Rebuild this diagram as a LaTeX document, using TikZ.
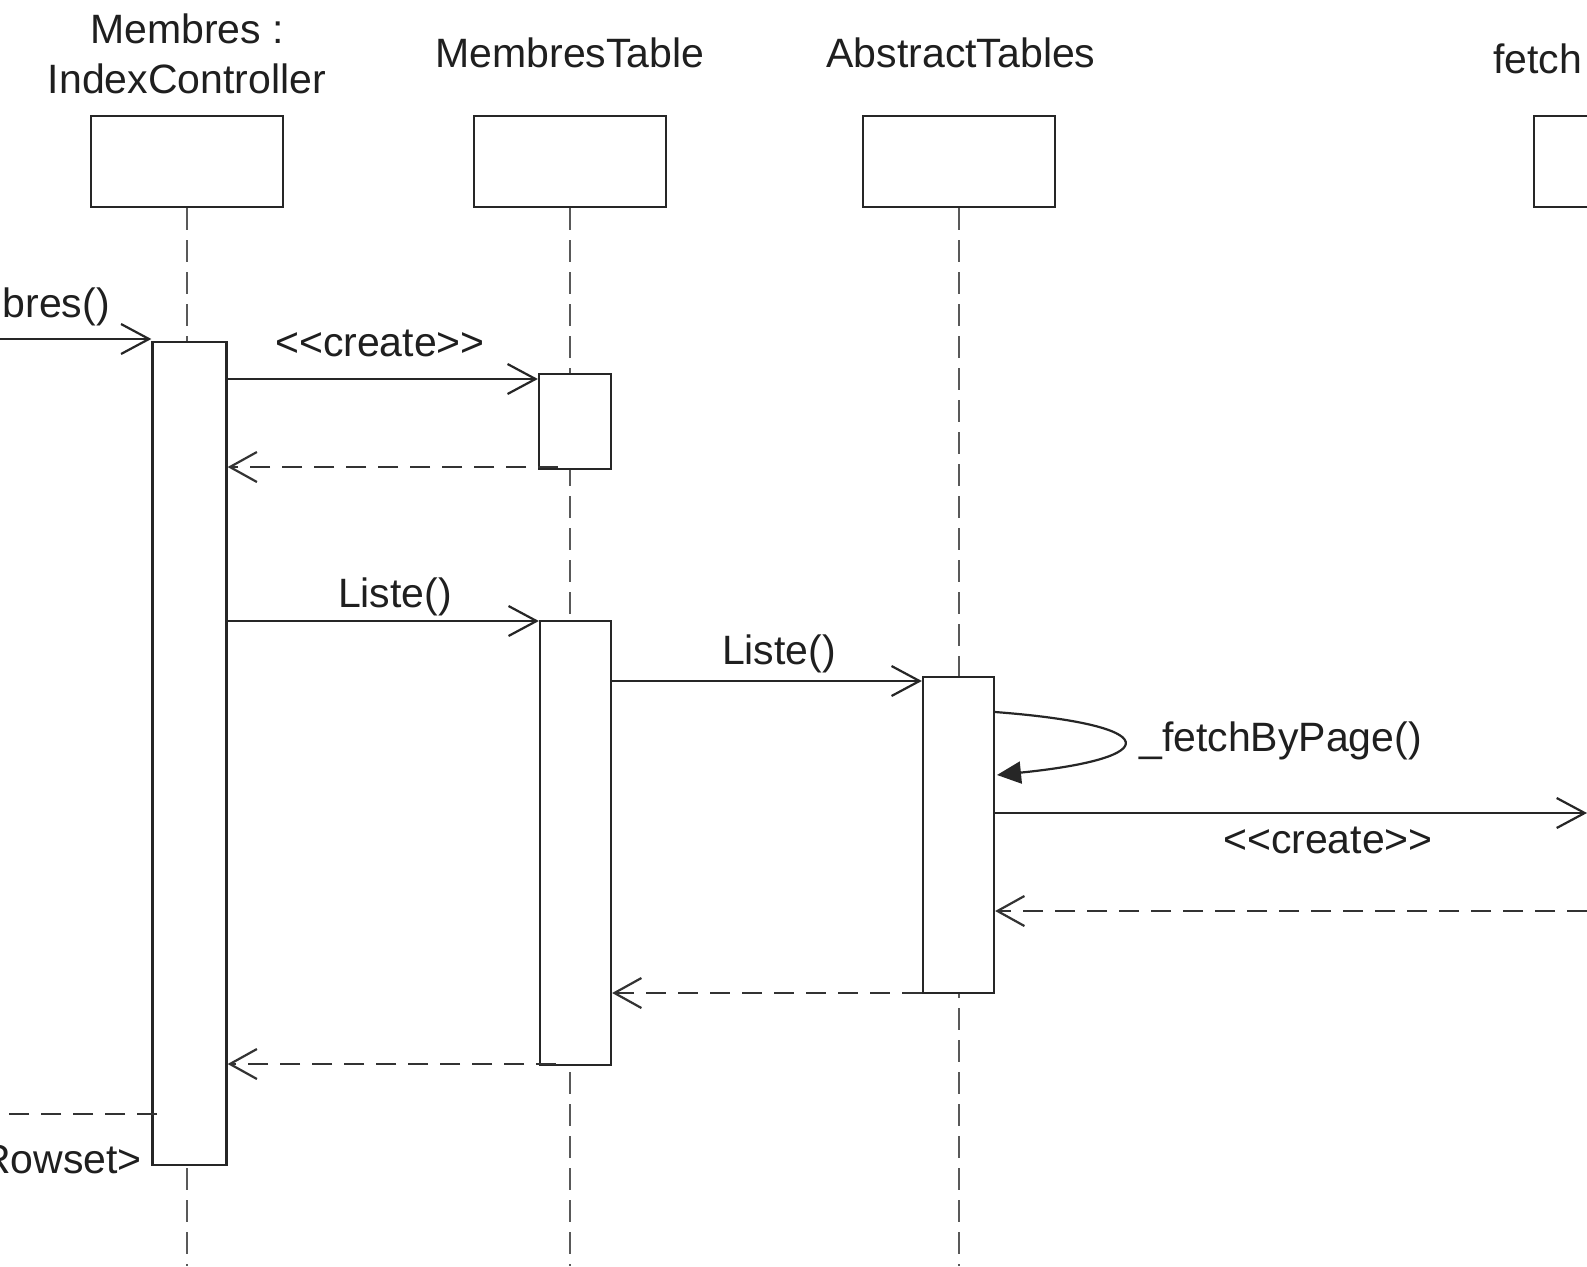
\documentclass[tikz,border=0pt]{standalone}
\usepackage{fontspec}
\setmainfont{Liberation Sans}
\usetikzlibrary{arrows.meta}
\begin{document}
\begin{tikzpicture}[x=1pt,y=-1pt,
  obj/.style={draw=black!85, line width=2.3pt, fill=white, rectangle, minimum width=192pt, minimum height=91pt, inner sep=0pt},
  actbox/.style={draw=black!85, line width=2.3pt, fill=white, rectangle, inner sep=0pt},
  life/.style={line width=2.8pt, draw=black!65, dash pattern=on 22pt off 10pt},
  msg/.style={line width=2.2pt, draw=black!85, -{Straight Barb[length=28pt,width=30pt,line width=2.2pt]}},
  ret/.style={line width=2.4pt, draw=black!80, dash pattern=on 20pt off 12pt, -{Straight Barb[length=27pt,width=30pt,line width=2.2pt]}},
  selfmsg/.style={line width=2.2pt, draw=black!85, -{Triangle[length=24pt,width=22pt]}},
  lbl/.style={font=\fontsize{41}{48}\selectfont, inner sep=0pt, anchor=base, text=black!88},
]
\clip (0,0) rectangle (1587,1266);
\fill[white] (0,0) rectangle (1587,1266);

% header objects
\node[obj] (hIC) at (187,161.5) {};
\node[obj] (hMT) at (570,161.5) {};
\node[obj] (hAT) at (959,161.5) {};
\node[obj] (hFR) at (1630,161.5) {};

\node[lbl] (tIC1) at (187,43) {Membres :};
\node[lbl] (tIC2) at (187,93) {IndexController};
\node[lbl] (tMT) at (570,67) {MembresTable};
\node[lbl] (tAT) at (961,67) {AbstractTables};
\node[lbl, anchor=base west] (tFR) at (1493,73) {fetch};

% lifeline ends
\coordinate (eIC) at (187,1266);
\coordinate (eMT) at (570,1266);
\coordinate (eAT) at (959,1266);

\draw[life] (hIC.south) -- (eIC);
\draw[life] (hMT.south) -- (eMT);
\draw[life] (hAT.south) -- (eAT);

% activations
\node[actbox, minimum width=74pt, minimum height=823pt] (aIC) at (189.5,753.5) {};
\node[actbox, minimum width=72pt, minimum height=95pt] (aMT1) at (575,421.5) {};
\node[actbox, minimum width=71pt, minimum height=444pt] (aMT2) at (575.5,843) {};
\node[actbox, minimum width=71pt, minimum height=316pt] (aAT) at (958.5,835) {};

% message levels
\coordinate (in1) at (0,339);
\coordinate (y2) at (0,379);
\coordinate (r1s) at (558,467);
\coordinate (y4) at (0,621);
\coordinate (y5) at (0,681);
\coordinate (ls) at (995,712);
\coordinate (le) at (997,775);
\coordinate (c2e) at (1587,813);
\coordinate (r2s) at (1587,911);
\coordinate (y9) at (0,993);
\coordinate (r4s) at (556,1064);
\coordinate (r5s) at (157,1114);
\coordinate (r5e) at (0,1114);

% messages
\draw[msg] (in1) -- (aIC.west |- in1);
\node[lbl, anchor=base east] (lIn) at (110,317) {bres()};

\draw[msg] (aIC.east |- y2) -- (aMT1.west |- y2);
\node[lbl] (lC1) at (380,356) {<{}<create>{}>};

\draw[ret] (r1s) -- (aIC.east |- r1s);

\draw[msg] (aIC.east |- y4) -- (aMT2.west |- y4);
\node[lbl] (lL1) at (395,607) {Liste()};

\draw[msg] (aMT2.east |- y5) -- (aAT.west |- y5);
\node[lbl] (lL2) at (779,664) {Liste()};

\draw[selfmsg] (ls) .. controls (1165,725) and (1165,758) .. (le);
\node[lbl, anchor=base west] (lF) at (1139,751) {\_fetchByPage()};

\draw[msg] (aAT.east |- c2e) -- (c2e);
\node[lbl] (lC2) at (1328,853) {<{}<create>{}>};

\draw[ret] (r2s) -- (aAT.east |- r2s);

\draw[ret] (aAT.west |- y9) -- (aMT2.east |- y9);

\draw[ret] (r4s) -- (aIC.east |- r4s);

\draw[line width=2.4pt, draw=black!80, dash pattern=on 20pt off 12pt] (r5s) -- (r5e);
\node[lbl, anchor=base east] (lR) at (142,1173) {Rowset>};
\end{tikzpicture}
\end{document}
